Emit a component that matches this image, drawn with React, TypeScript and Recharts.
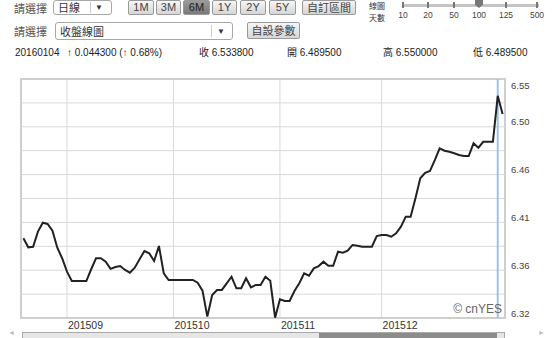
import React from 'react';
import { LineChart, Line, XAxis, YAxis, CartesianGrid, ReferenceLine, ReferenceArea } from 'recharts';

// Daily close (USD/CNY), 2015-08-19 .. 2016-01-05, one point per weekday
const closeValues = [
  6.3967, 6.3880, 6.3886, 6.4031, 6.4117, 6.4105, 6.4040, 6.3877, 6.3775, 6.3646,
  6.3556, 6.3556, 6.3556, 6.3556, 6.3669, 6.3775, 6.3775, 6.3742, 6.3673, 6.3691,
  6.3700, 6.3662, 6.3636, 6.3684, 6.3765, 6.3845, 6.3823, 6.3749, 6.3893, 6.3630,
  6.3566, 6.3566, 6.3566, 6.3566, 6.3566, 6.3566, 6.3540, 6.3463, 6.3213, 6.3421,
  6.3470, 6.3470, 6.3534, 6.3597, 6.3486, 6.3486, 6.3582, 6.3495, 6.3518, 6.3518,
  6.3597, 6.3559, 6.3203, 6.3380, 6.3364, 6.3364, 6.3460, 6.3534, 6.3630, 6.3607,
  6.3678, 6.3700, 6.3742, 6.3703, 6.3703, 6.3838, 6.3828, 6.3848, 6.3903, 6.3896,
  6.3886, 6.3886, 6.3886, 6.3989, 6.3999, 6.3999, 6.3982, 6.4015, 6.4079, 6.4175,
  6.4175, 6.4352, 6.4544, 6.4598, 6.4615, 6.4720, 6.4833, 6.4810, 6.4800, 6.4785,
  6.4769, 6.4759, 6.4759, 6.4881, 6.4839, 6.4895, 6.4895, 6.4895, 6.5338, 6.5163,
];

const xTickIndex = [9, 31, 53, 74];
const xTickLabels = ['201509', '201510', '201511', '201512'];
const yTicks = [6.32, 6.343, 6.366, 6.389, 6.412, 6.435, 6.458, 6.481, 6.504, 6.527, 6.55];
const yTickLabels = ['6.32', '', '6.36', '', '6.41', '', '6.46', '', '6.50', '', '6.55'];
const cursorIndex = 98;

const periodButtons = ['1M', '3M', '6M', '1Y', '2Y', '5Y'];
const activePeriod = '6M';
const sliderLabels = ['10', '20', '50', '100', '125', '500'];
const activeSlider = '100';

const infoItems = [
  { text: '20160104', left: 15 },
  { text: '↑ 0.044300 (↑ 0.68%)', left: 67 },
  { text: '收 6.533800', left: 199 },
  { text: '開 6.489500', left: 287 },
  { text: '高 6.550000', left: 383 },
  { text: '低 6.489500', left: 473 },
];

const data = closeValues.map((v, i) => ({ i, v }));

const FONT = '"Liberation Sans", Arial, "Noto Sans CJK TC", sans-serif';
const CJK = '"Noto Sans CJK TC", "Liberation Sans", sans-serif';

const YTick = (props: any) => {
  const { x, y, index } = props;
  const label = yTickLabels[index];
  if (!label) return <g />;
  const dy = index === yTickLabels.length - 1 ? 6 : -5;
  return (
    <text x={x} y={y + dy} fill="#444" fontSize={9.5} fontFamily={FONT} textAnchor="start" dominantBaseline="central">
      {label}
    </text>
  );
};

const XTick = (props: any) => {
  const { x, y, index } = props;
  return (
    <text x={x + 1} y={y + 7} fill="#333" fontSize={10.5} fontFamily={FONT} textAnchor="start" dominantBaseline="central">
      {xTickLabels[index]}
    </text>
  );
};

const btnStyle = (active: boolean): React.CSSProperties => ({
  position: 'absolute',
  top: 0,
  height: 15,
  boxSizing: 'border-box',
  border: '1px solid #9a9a9a',
  borderRadius: 2,
  background: active ? 'linear-gradient(#9a9a9a, #7a7a7a)' : 'linear-gradient(#f6f6f6, #d6d6d6)',
  color: active ? '#222' : '#444',
  fontSize: 11,
  fontFamily: FONT,
  lineHeight: '13px',
  textAlign: 'center',
});

const buttonLefts = [128, 156, 183, 212, 240, 269];
const buttonWidths = [26, 25, 27, 25, 26, 27];
const sliderX = [403, 428, 454, 479, 506, 537];

export default function App() {
  return (
    <div style={{ position: 'absolute', left: 0, top: 0, width: 553, height: 338, overflow: 'hidden', background: '#fff', fontFamily: FONT }}>
      {/* Row 1 */}
      <div style={{ position: 'absolute', left: 14, top: 1, fontSize: 11, fontFamily: CJK, color: '#555', lineHeight: '14px' }}>請選擇</div>
      <div style={{ position: 'absolute', left: 53, top: 0, width: 59, height: 15, boxSizing: 'border-box', border: '1px solid #a8a8a8', borderRadius: 3, background: '#fff' }}>
        <span style={{ position: 'absolute', left: 4, top: 0, fontSize: 11, fontFamily: CJK, color: '#333', lineHeight: '13px' }}>日線</span>
        <div style={{ position: 'absolute', left: 36, top: 1, width: 1, height: 11, background: '#ccc' }} />
        <span style={{ position: 'absolute', left: 41, top: 0, fontSize: 8, color: '#333', lineHeight: '13px' }}>▼</span>
      </div>
      {periodButtons.map((b, k) => (
        <div key={b} style={{ ...btnStyle(b === activePeriod), left: buttonLefts[k], width: buttonWidths[k] }}>{b}</div>
      ))}
      <div style={{ ...btnStyle(false), left: 302, width: 54, fontFamily: CJK }}>自訂區間</div>

      {/* Slider */}
      <div style={{ position: 'absolute', left: 369, top: 0, height: 12, fontSize: 8, fontFamily: CJK, color: '#333', lineHeight: '12px', whiteSpace: 'nowrap' }}>線圖</div>
      <div style={{ position: 'absolute', left: 369, top: 12, height: 12, fontSize: 8, fontFamily: CJK, color: '#333', lineHeight: '12px', whiteSpace: 'nowrap' }}>天數</div>
      <div style={{ position: 'absolute', left: 402, top: 4, width: 137, height: 3, background: '#c4c4c4' }} />
      {sliderLabels.map((s, k) => (
        <React.Fragment key={s}>
          {s === activeSlider ? (
            <div style={{ position: 'absolute', left: sliderX[k] - 4, top: 0, width: 8, height: 8, background: '#777', clipPath: 'polygon(0 0,100% 0,100% 60%,50% 100%,0 60%)' }} />
          ) : (
            <div style={{ position: 'absolute', left: sliderX[k] - 1, top: 2, width: 2, height: 6, background: '#777' }} />
          )}
          <div style={{ position: 'absolute', left: sliderX[k] - 12, width: 24, top: 10, fontSize: 8.5, color: '#444', textAlign: 'center', lineHeight: '10px' }}>{s}</div>
        </React.Fragment>
      ))}

      {/* Row 2 */}
      <div style={{ position: 'absolute', left: 14, top: 24, fontSize: 11, fontFamily: CJK, color: '#555', lineHeight: '14px' }}>請選擇</div>
      <div style={{ position: 'absolute', left: 55, top: 22, width: 178, height: 18, boxSizing: 'border-box', border: '1px solid #a8a8a8', borderRadius: 3, background: '#fff' }}>
        <span style={{ position: 'absolute', left: 4, top: 1, fontSize: 11, fontFamily: CJK, color: '#333', lineHeight: '15px' }}>收盤線圖</span>
        <div style={{ position: 'absolute', left: 155, top: 2, width: 1, height: 12, background: '#ccc' }} />
        <span style={{ position: 'absolute', left: 161, top: 1, fontSize: 8, color: '#333', lineHeight: '15px' }}>▼</span>
      </div>
      <div style={{ ...btnStyle(false), left: 247, top: 22, width: 53, height: 17, lineHeight: '15px', fontFamily: CJK }}>自設參數</div>

      {/* Info row */}
      {infoItems.map((it) => (
        <div key={it.text} style={{ position: 'absolute', left: it.left, top: 46, fontSize: 10, color: '#222', lineHeight: '14px', whiteSpace: 'nowrap', fontFamily: FONT }}>{it.text}</div>
      ))}

      {/* Chart */}
      <div style={{ position: 'absolute', left: 0, top: 0 }}>
        <LineChart width={553} height={338} data={data} margin={{ top: 79, right: 0, bottom: 0, left: 21 }}>
          <CartesianGrid stroke="#d9d9d9" strokeWidth={1} horizontalValues={yTicks} verticalValues={xTickIndex} />
          <ReferenceArea x1={-0.5} x2={99.5} y1={6.32} y2={6.55} fill="none" fillOpacity={0} stroke="#cfcfcf" strokeWidth={2} ifOverflow="visible" />
          <XAxis
            dataKey="i"
            type="number"
            domain={[-0.5, 99.5]}
            ticks={xTickIndex}
            interval={0}
            height={20}
            axisLine={false}
            tickLine={false}
            tickSize={0}
            tickMargin={0}
            tick={<XTick />}
            allowDataOverflow
          />
          <YAxis
            orientation="right"
            type="number"
            domain={[6.32, 6.55]}
            ticks={yTicks}
            interval={0}
            width={48}
            axisLine={false}
            tickLine={false}
            tickSize={0}
            tickMargin={6}
            tick={<YTick />}
            allowDataOverflow
          />
          <ReferenceLine x={cursorIndex} stroke="#9fc2e7" strokeWidth={2} />
          <Line type="linear" dataKey="v" stroke="#222" strokeWidth={2} dot={false} isAnimationActive={false} activeDot={false} />
        </LineChart>
      </div>

      <div style={{ position: 'absolute', right: 51, top: 302, fontSize: 12, color: '#666', fontFamily: FONT, lineHeight: '14px' }}>© cnYES</div>

      {/* Scrollbar */}
      <div style={{ position: 'absolute', left: 8, top: 329, fontSize: 7, color: '#bbb', lineHeight: '8px' }}>◄</div>
      <div style={{ position: 'absolute', left: 22, top: 332, width: 483, height: 8, boxSizing: 'border-box', border: '1px solid #aaa', background: '#e6e6e6' }} />
      <div style={{ position: 'absolute', left: 319, top: 333, width: 178, height: 6, background: '#8c8c8c' }} />
      <div style={{ position: 'absolute', left: 538, top: 329, fontSize: 7, color: '#bbb', lineHeight: '8px' }}>►</div>
    </div>
  );
}
